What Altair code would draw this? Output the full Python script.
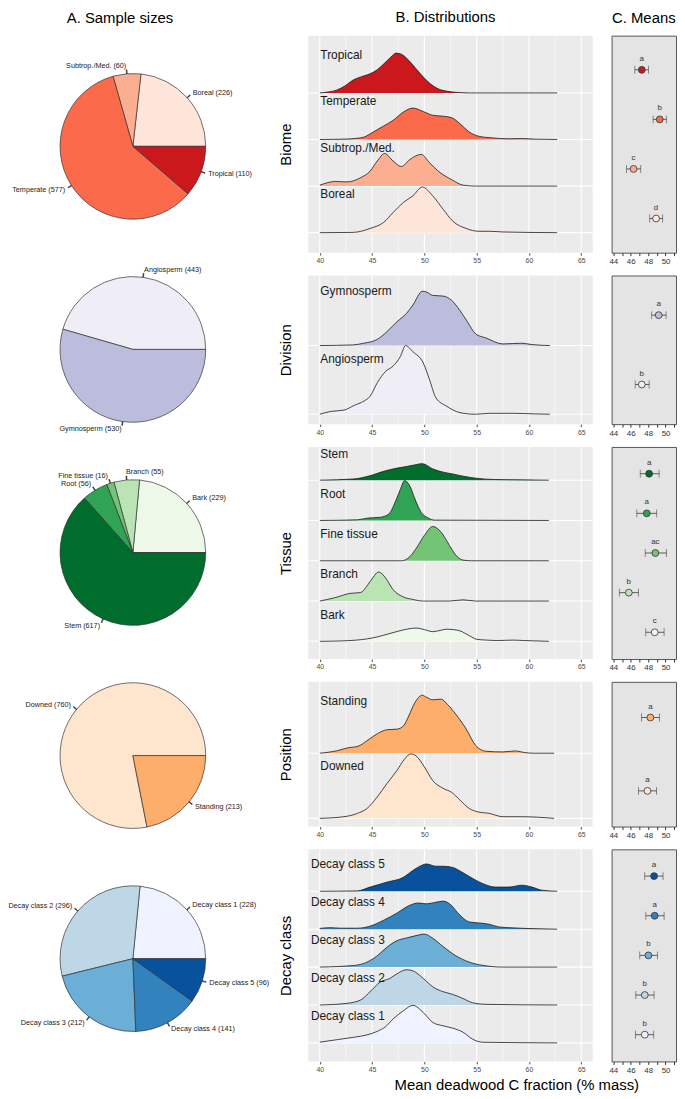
import math
import altair as alt
import pandas as pd

FONT = "Liberation Sans"

# ---------------- data (categories listed top -> bottom as in panels B/C) ----------------
biome_cats = ["Tropical", "Temperate", "Subtrop./Med.", "Boreal"]
biome_n = [110, 577, 60, 226]
biome_colors = ["#CB181D", "#FB6A4A", "#FCAE91", "#FEE5D9"]
biome_mean = [47.27, 49.33, 46.32, 48.91]
biome_lo = [46.47, 48.57, 45.52, 48.18]
biome_hi = [48.03, 50.09, 47.15, 49.67]
biome_letters = ["a", "b", "c", "d"]

division_cats = ["Gymnosperm", "Angiosperm"]
division_n = [530, 443]
division_colors = ["#BCBDDC", "#EFEDF5"]
division_mean = [49.21, 47.27]
division_lo = [48.41, 46.51]
division_hi = [50.06, 48.11]
division_letters = ["a", "b"]

tissue_cats = ["Stem", "Root", "Fine tissue", "Branch", "Bark"]
tissue_n = [617, 56, 16, 55, 229]
tissue_colors = ["#006D2C", "#31A354", "#74C476", "#BAE4B3", "#EDF8E9"]
tissue_mean = [48.11, 47.84, 48.83, 45.78, 48.75]
tissue_lo = [47.09, 46.70, 47.66, 44.69, 47.73]
tissue_hi = [49.26, 48.98, 50.09, 46.89, 49.83]
tissue_letters = ["a", "a", "ac", "b", "c"]

position_cats = ["Standing", "Downed"]
position_n = [213, 760]
position_colors = ["#FDAE6B", "#FEE6CE"]
position_mean = [48.26, 47.92]
position_lo = [47.23, 46.89]
position_hi = [49.29, 48.95]
position_letters = ["a", "a"]

decay_cats = ["Decay class 5", "Decay class 4", "Decay class 3", "Decay class 2", "Decay class 1"]
decay_n = [96, 141, 212, 296, 228]
decay_colors = ["#08519C", "#3182BD", "#6BAED6", "#BDD7E7", "#EFF3FF"]
decay_mean = [48.68, 48.75, 48.03, 47.61, 47.61]
decay_lo = [47.61, 47.73, 47.04, 46.58, 46.55]
decay_hi = [49.71, 49.83, 49.06, 48.68, 48.64]
decay_letters = ["a", "a", "b", "b", "b"]

# density curves (x = C fraction, d = ridge height in row units)
tropical_x = [40.0, 40.8, 41.6, 42.4, 43.2, 44.0, 44.8, 45.5, 46.1, 46.8, 47.3, 47.8, 48.5, 49.2, 49.9, 50.6, 51.3, 52.2, 53.2, 54.3, 62.7]
tropical_d = [0.0, 0.02, 0.06, 0.15, 0.28, 0.35, 0.41, 0.50, 0.62, 0.77, 0.855, 0.83, 0.70, 0.52, 0.34, 0.19, 0.09, 0.035, 0.01, 0.0, 0.0]
temperate_x = [40.0, 42.6, 43.5, 44.2, 45.1, 46.1, 47.0, 48.0, 48.9, 49.9, 50.8, 51.8, 52.6, 53.4, 54.3, 55.2, 56.5, 58.1, 59.3, 60.6, 62.7]
temperate_d = [0.0, 0.01, 0.025, 0.05, 0.16, 0.29, 0.41, 0.59, 0.675, 0.60, 0.52, 0.50, 0.47, 0.34, 0.16, 0.07, 0.035, 0.015, 0.02, 0.007, 0.0]
subtrop_x = [40.0, 40.7, 41.4, 42.6, 43.9, 44.8, 45.5, 46.2, 47.0, 47.8, 48.6, 49.7, 50.5, 51.5, 52.6, 53.7, 54.9, 62.7]
subtrop_d = [0.02, 0.07, 0.10, 0.09, 0.18, 0.32, 0.54, 0.70, 0.54, 0.42, 0.57, 0.68, 0.50, 0.29, 0.14, 0.02, 0.0, 0.0]
boreal_x = [40.0, 43.0, 43.6, 44.8, 46.1, 47.0, 48.0, 48.9, 49.8, 50.8, 51.8, 52.7, 54.0, 55.2, 56.2, 57.5, 62.7]
boreal_d = [0.0, 0.005, 0.015, 0.09, 0.22, 0.43, 0.65, 0.79, 0.98, 0.79, 0.50, 0.25, 0.09, 0.03, 0.03, 0.015, 0.0]

gymno_x = [40.0, 43.2, 44.2, 45.5, 46.4, 47.4, 48.3, 48.9, 49.8, 50.2, 50.8, 51.8, 52.6, 53.4, 54.1, 54.9, 55.9, 57.5, 59.3, 60.3, 62.0]
gymno_d = [0.0, 0.01, 0.034, 0.09, 0.20, 0.35, 0.47, 0.59, 0.79, 0.78, 0.73, 0.72, 0.66, 0.51, 0.35, 0.17, 0.11, 0.024, 0.034, 0.014, 0.0]
angio_x = [40.0, 41.0, 42.3, 43.3, 44.2, 44.8, 45.5, 46.3, 47.0, 47.7, 48.2, 48.9, 49.9, 50.5, 51.1, 52.1, 53.4, 54.9, 56.2, 58.4, 60.6, 62.0]
angio_d = [0.0, 0.04, 0.06, 0.13, 0.19, 0.26, 0.46, 0.625, 0.70, 0.84, 1.0, 0.91, 0.745, 0.50, 0.24, 0.12, 0.024, 0.0, 0.014, 0.014, 0.005, 0.0]

stem_x = [40.0, 43.2, 44.8, 46.1, 47.4, 48.3, 48.9, 49.8, 50.8, 51.8, 52.7, 53.7, 54.9, 56.8, 59.3, 61.9]
stem_d = [0.0, 0.03, 0.11, 0.22, 0.30, 0.34, 0.37, 0.41, 0.28, 0.20, 0.155, 0.10, 0.05, 0.016, 0.008, 0.0]
root_x = [40.0, 43.6, 44.5, 45.8, 46.6, 47.2, 47.7, 48.1, 48.6, 49.1, 49.7, 50.4, 51.0, 61.9]
root_d = [0.0, 0.016, 0.057, 0.08, 0.16, 0.45, 0.77, 0.99, 0.86, 0.53, 0.20, 0.057, 0.008, 0.0]
fine_x = [40.0, 47.8, 48.6, 49.2, 50.0, 50.8, 51.6, 52.4, 53.0, 53.7, 54.5, 61.9]
fine_d = [0.0, 0.0, 0.10, 0.30, 0.63, 0.85, 0.71, 0.38, 0.14, 0.016, 0.0, 0.0]
branch_x = [40.0, 41.4, 42.9, 43.9, 44.5, 45.1, 45.6, 46.3, 47.0, 48.0, 48.9, 49.9, 52.4, 53.7, 54.9, 61.9]
branch_d = [0.0, 0.08, 0.19, 0.21, 0.37, 0.59, 0.72, 0.57, 0.285, 0.10, 0.04, 0.0, 0.0, 0.03, 0.0, 0.0]
bark_x = [40.0, 42.0, 43.5, 44.5, 45.5, 46.5, 47.4, 48.3, 49.2, 50.0, 50.8, 51.5, 52.1, 52.8, 53.4, 54.3, 55.0, 56.0, 57.0, 58.5, 59.5, 61.9]
bark_d = [0.0, 0.01, 0.03, 0.06, 0.11, 0.18, 0.245, 0.30, 0.33, 0.29, 0.24, 0.27, 0.30, 0.29, 0.26, 0.14, 0.05, 0.03, 0.02, 0.03, 0.02, 0.0]

standing_x = [40.0, 41.7, 42.6, 43.7, 44.5, 45.5, 46.4, 47.4, 48.0, 48.5, 49.1, 49.8, 50.2, 50.8, 51.6, 52.2, 53.0, 54.0, 54.9, 55.9, 57.5, 58.7, 59.6, 60.5, 62.4]
standing_d = [0.0, 0.04, 0.08, 0.11, 0.19, 0.30, 0.36, 0.37, 0.42, 0.57, 0.78, 0.89, 0.86, 0.82, 0.83, 0.75, 0.60, 0.37, 0.12, 0.03, 0.02, 0.035, 0.01, 0.0, 0.0]
downed_x = [40.0, 42.3, 43.6, 44.5, 45.5, 46.4, 47.4, 48.1, 48.7, 49.2, 50.0, 50.8, 51.8, 52.6, 53.4, 54.3, 55.1, 56.2, 57.5, 59.3, 62.4]
downed_d = [0.0, 0.025, 0.076, 0.15, 0.33, 0.53, 0.74, 0.91, 0.99, 0.96, 0.79, 0.58, 0.46, 0.40, 0.28, 0.15, 0.10, 0.076, 0.025, 0.025, 0.0]

dc5_x = [40.0, 43.6, 44.8, 46.4, 48.0, 48.9, 49.5, 50.2, 51.1, 51.8, 52.7, 53.5, 54.3, 55.6, 56.8, 58.1, 59.3, 60.3, 61.2, 62.7]
dc5_d = [0.0, 0.01, 0.11, 0.24, 0.37, 0.55, 0.65, 0.72, 0.66, 0.66, 0.63, 0.52, 0.39, 0.20, 0.11, 0.11, 0.16, 0.11, 0.03, 0.0]
dc4_x = [40.0, 41.0, 42.0, 43.6, 44.8, 46.1, 47.4, 48.6, 49.4, 50.2, 51.1, 51.8, 52.4, 53.4, 54.3, 55.2, 56.2, 57.1, 58.4, 60.0, 62.7]
dc4_d = [0.02, 0.04, 0.026, 0.026, 0.08, 0.235, 0.43, 0.63, 0.69, 0.67, 0.71, 0.74, 0.67, 0.37, 0.19, 0.165, 0.13, 0.06, 0.035, 0.017, 0.0]
dc3_x = [40.0, 43.3, 44.5, 45.5, 46.4, 47.4, 48.3, 49.2, 50.0, 50.8, 51.8, 53.0, 54.3, 55.6, 57.5, 62.7]
dc3_d = [0.0, 0.044, 0.13, 0.30, 0.52, 0.70, 0.77, 0.83, 0.87, 0.76, 0.54, 0.30, 0.13, 0.044, 0.0, 0.0]
dc2_x = [40.0, 42.6, 43.9, 44.8, 45.8, 46.7, 47.5, 48.3, 48.9, 49.9, 50.8, 51.8, 52.7, 53.7, 54.6, 55.9, 62.7]
dc2_d = [0.0, 0.044, 0.13, 0.35, 0.61, 0.70, 0.845, 0.93, 0.90, 0.70, 0.48, 0.35, 0.28, 0.17, 0.06, 0.017, 0.0]
dc1_x = [40.0, 41.7, 43.3, 44.5, 45.5, 46.3, 47.0, 48.0, 48.9, 49.9, 50.8, 51.8, 52.7, 53.7, 54.6, 55.6, 62.7]
dc1_d = [0.02, 0.087, 0.15, 0.21, 0.305, 0.43, 0.63, 0.85, 0.99, 0.80, 0.54, 0.45, 0.39, 0.28, 0.10, 0.017, 0.0]

ridge_major = [40, 45, 50, 55, 60, 65]
ridge_minor = [42.5, 47.5, 52.5, 57.5, 62.5]
means_ticks = [44, 44.5, 45, 45.5, 46, 46.5, 47, 47.5, 48, 48.5, 49, 49.5, 50, 50.5, 51]

# pie labels that the reference sets to the right of their leader line
pie_left_aligned = ["Branch"]

X_DOMAIN = [38.9, 66.1]
MEANS_DOMAIN = [43.8, 51.2]
ROW_GAP = 23


def col_title(text, dx):
    return alt.TitleParams(text=text, fontSize=15, font=FONT, fontWeight="normal",
                           color="black", anchor="middle", frame="group", dx=dx, offset=10)


def ridge_chart(cats, xs, ds, colors, ydom, height, ytitle, lab_off, lab_x, title=None):
    n = len(cats)
    xsc = alt.Scale(domain=X_DOMAIN, nice=False, zero=False)
    ysc = alt.Scale(domain=ydom, nice=False, zero=False)
    xax = alt.Axis(values=ridge_major, title=None, grid=False, domain=False, labelFontSize=7,
                   labelColor="#4D4D4D", tickColor="#4D4D4D", tickSize=2.5, labelPadding=1.5,
                   labelFont=FONT, format="d", labelFlush=False, labelOverlap=False)
    yax = alt.Axis(title=ytitle, labels=False, ticks=False, domain=False, grid=False,
                   titleFontSize=15, titleFontWeight="normal", titleColor="black",
                   titlePadding=15, titleFont=FONT)
    major = alt.Chart(pd.DataFrame({"v": ridge_major})).mark_rule(color="white", strokeWidth=1.1).encode(
        x=alt.X("v:Q", scale=xsc, axis=xax))
    minor = alt.Chart(pd.DataFrame({"v": ridge_minor})).mark_rule(color="white", strokeWidth=0.55).encode(
        x=alt.X("v:Q", scale=xsc, axis=xax))
    basel = alt.Chart(pd.DataFrame({"b": list(range(n))})).mark_rule(color="white", strokeWidth=1.1).encode(
        y=alt.Y("b:Q", scale=ysc, axis=yax))
    layers = [minor, major, basel]
    for i, c in enumerate(cats):
        base = n - 1 - i
        df = pd.DataFrame({"x": xs[i], "d": ds[i]})
        df["base"] = base
        df["top"] = base + df["d"]
        area = alt.Chart(df).mark_area(color=colors[i], opacity=1, interpolate="monotone").encode(
            x=alt.X("x:Q", scale=xsc, axis=xax),
            y=alt.Y("top:Q", scale=ysc, axis=yax), y2="base:Q")
        line = alt.Chart(df).mark_line(color="#1a1a1a", strokeWidth=0.8, interpolate="monotone").encode(
            x=alt.X("x:Q", scale=xsc, axis=xax),
            y=alt.Y("top:Q", scale=ysc, axis=yax))
        layers += [area, line]
    labdf = pd.DataFrame({"cat": cats})
    labdf["b"] = [n - 1 - i for i in range(n)]
    labdf["x"] = lab_x
    labdf["y"] = labdf["b"] + lab_off
    labels = alt.Chart(labdf).mark_text(align="left", baseline="middle", fontSize=12, font=FONT,
                                        color="#1a1a1a").encode(
        x=alt.X("x:Q", scale=xsc, axis=xax), y=alt.Y("y:Q", scale=ysc, axis=yax), text="cat:N")
    layers.append(labels)
    ch = alt.layer(*layers).properties(width=287, height=height,
                                       view=alt.ViewBackground(fill="#EBEBEB", stroke=None))
    if title is not None:
        ch = ch.properties(title=title)
    return ch


def means_chart(cats, m, lo, hi, letters, colors, height, step, title=None):
    n = len(cats)
    pad = (height / step - (n - 1)) / 2
    df = pd.DataFrame({"cat": cats, "m": m, "lo": lo, "hi": hi, "let": letters, "col": colors})
    xsc = alt.Scale(domain=MEANS_DOMAIN, nice=False, zero=False)
    ysc = alt.Scale(type="point", domain=cats, padding=pad)
    xax = alt.Axis(values=means_ticks, labelExpr="datum.value % 2 === 0 ? datum.label : ''",
                   format="d", title=None, grid=False, domain=False, tickSize=3, tickColor="#333333",
                   labelFontSize=8, labelColor="#333333", labelPadding=2, labelFont=FONT,
                   labelFlush=False, labelOverlap=False)
    Y = alt.Y("cat:N", scale=ysc, axis=None)
    base = alt.Chart(df)
    bar = base.mark_rule(color="#3a3a3a", strokeWidth=0.8).encode(
        x=alt.X("lo:Q", scale=xsc, axis=xax), x2="hi:Q", y=Y)
    cap_lo = base.mark_tick(color="#3a3a3a", thickness=0.8, size=8, orient="vertical").encode(
        x=alt.X("lo:Q", scale=xsc, axis=xax), y=Y)
    cap_hi = base.mark_tick(color="#3a3a3a", thickness=0.8, size=8, orient="vertical").encode(
        x=alt.X("hi:Q", scale=xsc, axis=xax), y=Y)
    pts = base.mark_circle(size=48, opacity=1, stroke="#333333", strokeWidth=0.8).encode(
        x=alt.X("m:Q", scale=xsc, axis=xax), y=Y, fill=alt.Fill("col:N", scale=None))
    txt = base.mark_text(dy=-11, fontSize=8, font=FONT, color="#333333", baseline="middle").encode(
        x=alt.X("m:Q", scale=xsc, axis=xax), y=Y, text="let:N")
    ch = alt.layer(bar, cap_lo, cap_hi, pts, txt).properties(
        width=65, height=height, view=alt.ViewBackground(fill="#E4E4E4", stroke="#555555", strokeWidth=1))
    if title is not None:
        ch = ch.properties(title=title)
    return ch


# ---------------- panel B ----------------
heights = [219, 150, 214, 146, 214]
ridges = [
    ridge_chart(biome_cats, [tropical_x, temperate_x, subtrop_x, boreal_x],
                [tropical_d, temperate_d, subtrop_d, boreal_d], biome_colors,
                [-0.43, 4.23], heights[0], "Biome", 0.82, 40.05, col_title("B. Distributions", -5)),
    ridge_chart(division_cats, [gymno_x, angio_x], [gymno_d, angio_d], division_colors,
                [-0.144, 2.02], heights[1], "Division", 0.8, 40.05),
    ridge_chart(tissue_cats, [stem_x, root_x, fine_x, branch_x, bark_x],
                [stem_d, root_d, fine_d, branch_d, bark_d], tissue_colors,
                [-0.44, 4.825], heights[2], "Tissue", 0.66, 40.05),
    ridge_chart(position_cats, [standing_x, downed_x], [standing_d, downed_d], position_colors,
                [-0.126, 2.096], heights[3], "Position", 0.8, 40.05),
    ridge_chart(decay_cats, [dc5_x, dc4_x, dc3_x, dc2_x, dc1_x],
                [dc5_d, dc4_d, dc3_d, dc2_d, dc1_d], decay_colors,
                [-0.489, 5.106], heights[4], "Decay class", 0.72, 39.15),
]

# ---------------- panel C ----------------
means = [
    means_chart(biome_cats, biome_mean, biome_lo, biome_hi, biome_letters, biome_colors, heights[0], 50,
                col_title("C. Means", 0)),
    means_chart(division_cats, division_mean, division_lo, division_hi, division_letters, division_colors,
                heights[1], 70),
    means_chart(tissue_cats, tissue_mean, tissue_lo, tissue_hi, tissue_letters, tissue_colors, heights[2], 40),
    means_chart(position_cats, position_mean, position_lo, position_hi, position_letters, position_colors,
                heights[3], 74),
    means_chart(decay_cats, decay_mean, decay_lo, decay_hi, decay_letters, decay_colors, heights[4], 40),
]

# ---------------- panel A (pies, R-style: counter-clockwise from 3 o'clock, alphabetical order) ----------------
pie_sets = [
    (biome_cats, biome_n, biome_colors),
    (division_cats, division_n, division_colors),
    (tissue_cats, tissue_n, tissue_colors),
    (position_cats, position_n, position_colors),
    (decay_cats, decay_n, decay_colors),
]
pie_rows = []
for k, (cats, ns, cols) in enumerate(pie_sets):
    total = sum(ns)
    cum = 0
    for c, nn, col in zip(reversed(cats), reversed(ns), reversed(cols)):
        a0 = 2 * math.pi * cum / total
        a1 = 2 * math.pi * (cum + nn) / total
        mid = (a0 + a1) / 2
        vm = math.pi / 2 - mid
        right = math.cos(mid) >= 0 or c in pie_left_aligned
        pie_rows.append({
            "pie": k, "cat": c, "col": col, "label": f"{c} ({nn})",
            "t1": math.pi / 2 - a1, "t2": math.pi / 2 - a0,
            "mid": vm, "tk1": vm - 0.006, "tk2": vm + 0.006,
            "side": "R" if right else "L",
        })
        cum += nn
pie_df = pd.DataFrame(pie_rows)
Ypie = alt.Y("pie:Q", scale=alt.Scale(domain=[-0.545, 4.506], reverse=True, nice=False, zero=False),
             axis=None, stack=False)
pie_base = alt.Chart(pie_df)
arcs = pie_base.mark_arc(outerRadius=73.5, stroke="#333333", strokeWidth=0.7).encode(
    y=Ypie, theta=alt.Theta("t1:Q", scale=None, stack=False), theta2="t2:Q",
    fill=alt.Fill("col:N", scale=None))
pticks = pie_base.mark_arc(innerRadius=73.5, outerRadius=77.5, stroke="#333333", strokeWidth=0.5,
                           fill="#333333").encode(
    y=Ypie, theta=alt.Theta("tk1:Q", scale=None, stack=False), theta2="tk2:Q")
labR = pie_base.transform_filter("datum.side == 'R'").mark_text(
    align="left", baseline="middle", fontSize=7.3, font=FONT, color="#222222").encode(
    y=Ypie, theta=alt.Theta("mid:Q", scale=None, stack=False), radius=alt.value(81), text="label:N")
labL = pie_base.transform_filter("datum.side == 'L'").mark_text(
    align="right", baseline="middle", fontSize=7.3, font=FONT, color="#222222").encode(
    y=Ypie, theta=alt.Theta("mid:Q", scale=None, stack=False), radius=alt.value(81), text="label:N")
colA = alt.layer(arcs, pticks, labR, labL).properties(
    width=250, height=sum(heights) + ROW_GAP * 4, title=col_title("A. Sample sizes", -13),
    view=alt.ViewBackground(stroke=None, fill=None))

colB = alt.vconcat(*ridges, spacing=ROW_GAP, bounds="flush")
colC = alt.vconcat(*means, spacing=ROW_GAP, bounds="flush")
inner = alt.hconcat(colB, colC, spacing=14)

chart = alt.hconcat(colA, inner, spacing=9).properties(
    padding={"left": 0, "top": -3, "right": 0, "bottom": 0},
    title=alt.TitleParams(text="Mean deadwood C fraction (% mass)", orient="bottom", anchor="middle",
                          fontSize=15, font=FONT, fontWeight="normal", color="black", dx=176, offset=3),
).configure_view(stroke=None).configure_axis(labelFont=FONT, titleFont=FONT)

chart.save("out.html", embed_options={"renderer": "svg", "actions": False})
